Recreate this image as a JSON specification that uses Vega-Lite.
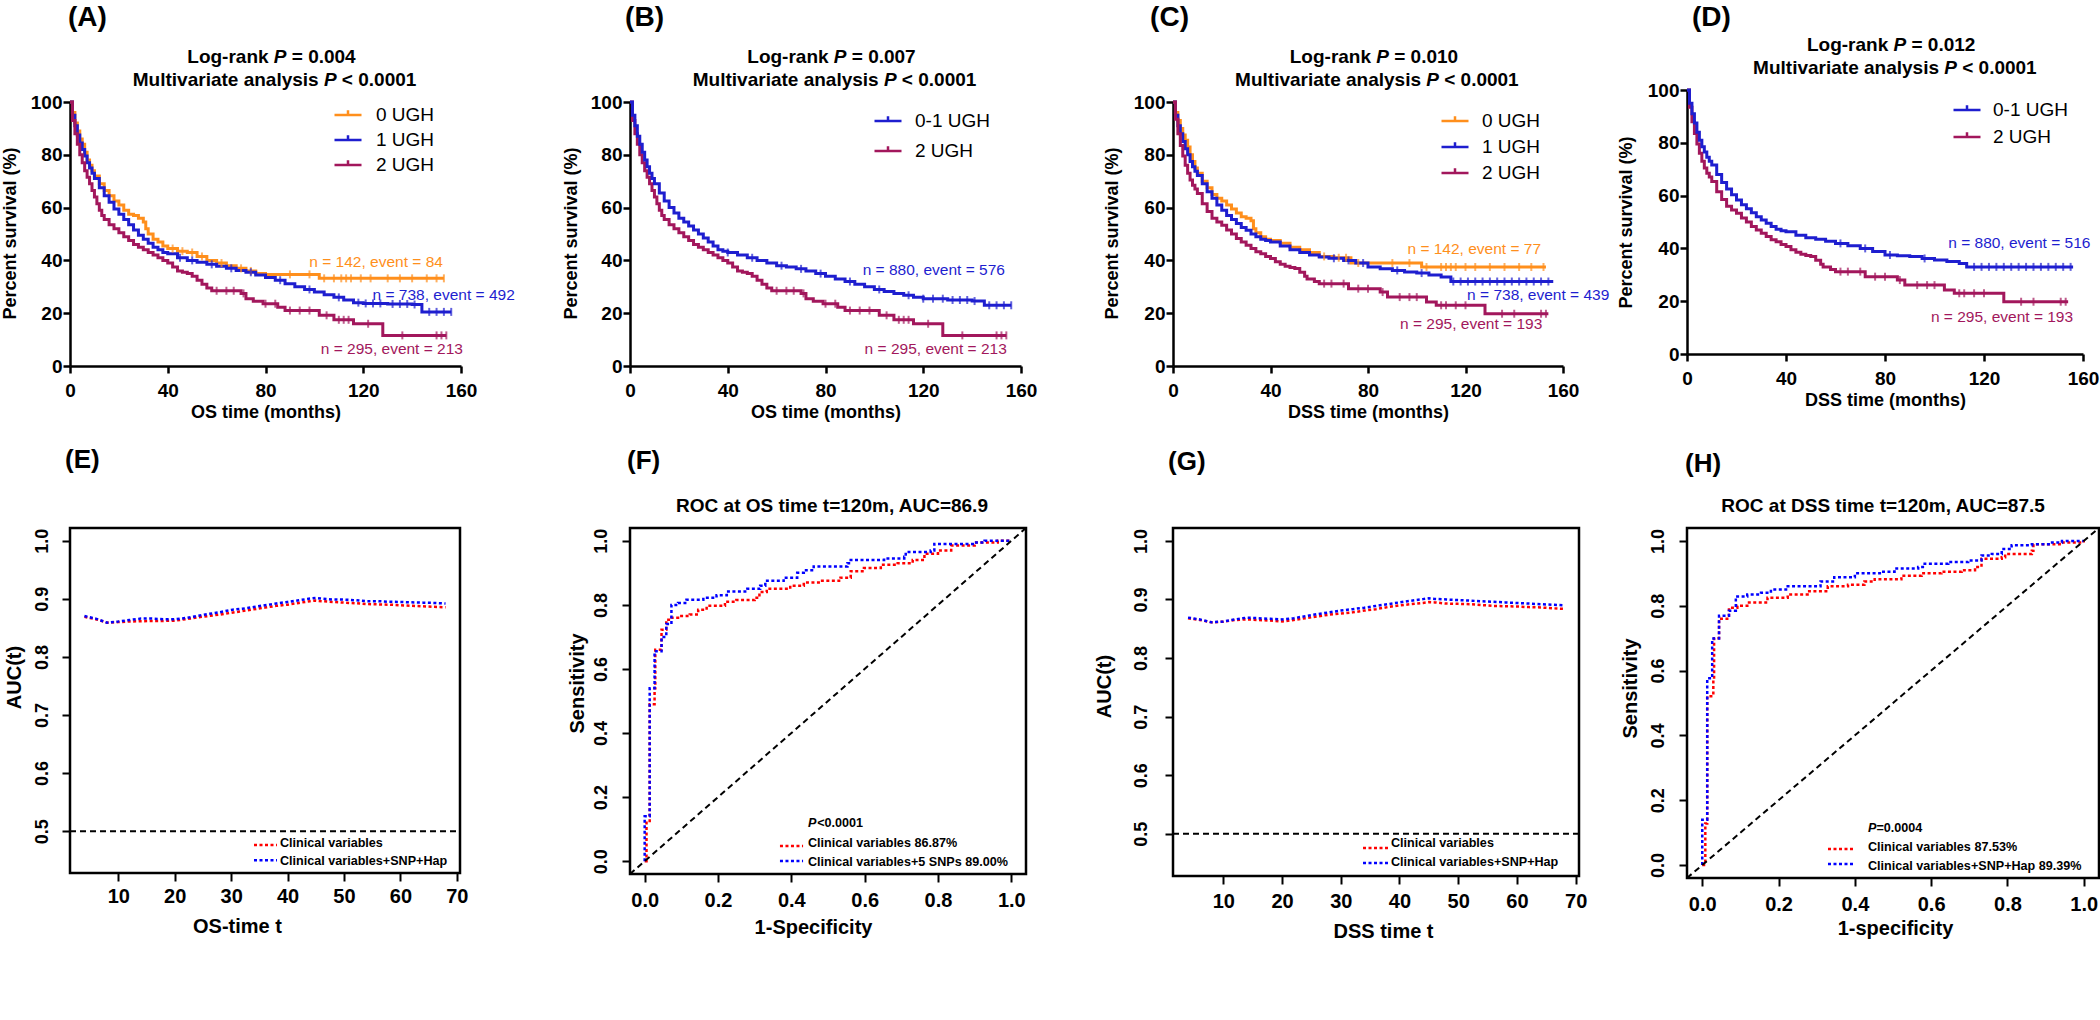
{
"$schema":"https://vega.github.io/schema/vega-lite/v6.json",
"background":"white",
"padding":{"left":1,"top":3,"right":0,"bottom":0},
"columns":4,
"spacing":{"row":162,"column":0},
"bounds":"flush",
"align":"each",
"resolve":{"scale":{"color":"independent"},"legend":{"color":"independent"}},
"config":{
 "font":"Liberation Sans",
 "view":{"stroke":null},
 "axis":{"domainColor":"black","tickColor":"black","labelColor":"black","titleColor":"black","grid":false,"labelFont":"Liberation Sans","titleFont":"Liberation Sans","labelFontWeight":"bold","titleFontWeight":"bold","labelFlush":false,"labelOverlap":false,"domainWidth":2.5,"tickWidth":2.5},
 "legend":{"labelFont":"Liberation Sans","padding":0,"labelColor":"black"},
 "text":{"font":"Liberation Sans","color":"black"}
},
"datasets":{
"os":[
{"g":"0 UGH","m":0,"p":100},{"g":"0 UGH","m":1,"p":96},{"g":"0 UGH","m":2,"p":92},{"g":"0 UGH","m":3,"p":89},{"g":"0 UGH","m":4,"p":86},{"g":"0 UGH","m":5,"p":84},{"g":"0 UGH","m":6,"p":81},{"g":"0 UGH","m":7,"p":78},{"g":"0 UGH","m":8,"p":76},{"g":"0 UGH","m":9,"p":74},{"g":"0 UGH","m":10,"p":72},{"g":"0 UGH","m":12,"p":69},{"g":"0 UGH","m":14,"p":66.5},{"g":"0 UGH","m":16,"p":64.5},{"g":"0 UGH","m":18,"p":62.5},{"g":"0 UGH","m":20,"p":61},{"g":"0 UGH","m":22,"p":59},{"g":"0 UGH","m":24,"p":57.5},{"g":"0 UGH","m":26,"p":57},{"g":"0 UGH","m":28,"p":56},{"g":"0 UGH","m":30,"p":54.5},{"g":"0 UGH","m":31,"p":52},{"g":"0 UGH","m":32,"p":50},{"g":"0 UGH","m":34,"p":48},{"g":"0 UGH","m":36,"p":47},{"g":"0 UGH","m":38,"p":45.5},{"g":"0 UGH","m":40,"p":44.5},{"g":"0 UGH","m":44,"p":43.5},{"g":"0 UGH","m":48,"p":43},{"g":"0 UGH","m":52,"p":41.5},{"g":"0 UGH","m":56,"p":40},{"g":"0 UGH","m":60,"p":39},{"g":"0 UGH","m":64,"p":38},{"g":"0 UGH","m":68,"p":37},{"g":"0 UGH","m":72,"p":36},{"g":"0 UGH","m":76,"p":35},{"g":"0 UGH","m":80,"p":34.7},{"g":"0 UGH","m":102,"p":33.2},{"g":"0 UGH","m":153,"p":33.2},
{"g":"1 UGH","m":0,"p":100},{"g":"1 UGH","m":1,"p":95},{"g":"1 UGH","m":2,"p":91},{"g":"1 UGH","m":3,"p":87.5},{"g":"1 UGH","m":4,"p":84.5},{"g":"1 UGH","m":5,"p":82},{"g":"1 UGH","m":6,"p":79.5},{"g":"1 UGH","m":7,"p":77},{"g":"1 UGH","m":8,"p":75},{"g":"1 UGH","m":9,"p":73},{"g":"1 UGH","m":10,"p":71},{"g":"1 UGH","m":12,"p":67.5},{"g":"1 UGH","m":14,"p":64.5},{"g":"1 UGH","m":16,"p":62},{"g":"1 UGH","m":18,"p":59.5},{"g":"1 UGH","m":20,"p":57.5},{"g":"1 UGH","m":22,"p":55.5},{"g":"1 UGH","m":24,"p":53.5},{"g":"1 UGH","m":26,"p":51.5},{"g":"1 UGH","m":28,"p":49.5},{"g":"1 UGH","m":30,"p":48},{"g":"1 UGH","m":32,"p":46.5},{"g":"1 UGH","m":34,"p":45},{"g":"1 UGH","m":36,"p":44},{"g":"1 UGH","m":38,"p":43},{"g":"1 UGH","m":40,"p":42.5},{"g":"1 UGH","m":44,"p":41},{"g":"1 UGH","m":48,"p":40},{"g":"1 UGH","m":52,"p":39.3},{"g":"1 UGH","m":56,"p":38.5},{"g":"1 UGH","m":60,"p":37.8},{"g":"1 UGH","m":64,"p":37},{"g":"1 UGH","m":68,"p":36.2},{"g":"1 UGH","m":72,"p":35.5},{"g":"1 UGH","m":76,"p":34.5},{"g":"1 UGH","m":80,"p":33.5},{"g":"1 UGH","m":84,"p":32.5},{"g":"1 UGH","m":88,"p":31.2},{"g":"1 UGH","m":92,"p":30},{"g":"1 UGH","m":96,"p":29},{"g":"1 UGH","m":100,"p":28},{"g":"1 UGH","m":104,"p":27},{"g":"1 UGH","m":108,"p":26},{"g":"1 UGH","m":112,"p":25},{"g":"1 UGH","m":116,"p":24},{"g":"1 UGH","m":120,"p":23.7},{"g":"1 UGH","m":130,"p":23.5},{"g":"1 UGH","m":140,"p":23.3},{"g":"1 UGH","m":144,"p":20.5},{"g":"1 UGH","m":156,"p":20.5},
{"g":"2 UGH","m":0,"p":100},{"g":"2 UGH","m":1,"p":93},{"g":"2 UGH","m":2,"p":88},{"g":"2 UGH","m":3,"p":84},{"g":"2 UGH","m":4,"p":80},{"g":"2 UGH","m":5,"p":77},{"g":"2 UGH","m":6,"p":74},{"g":"2 UGH","m":7,"p":71.5},{"g":"2 UGH","m":8,"p":69},{"g":"2 UGH","m":9,"p":66.5},{"g":"2 UGH","m":10,"p":64},{"g":"2 UGH","m":11,"p":61.5},{"g":"2 UGH","m":12,"p":59},{"g":"2 UGH","m":13,"p":57},{"g":"2 UGH","m":14,"p":55.5},{"g":"2 UGH","m":16,"p":53.5},{"g":"2 UGH","m":18,"p":52},{"g":"2 UGH","m":20,"p":50.5},{"g":"2 UGH","m":22,"p":49},{"g":"2 UGH","m":24,"p":47.5},{"g":"2 UGH","m":26,"p":46},{"g":"2 UGH","m":28,"p":45},{"g":"2 UGH","m":30,"p":44},{"g":"2 UGH","m":32,"p":43},{"g":"2 UGH","m":34,"p":42},{"g":"2 UGH","m":36,"p":41},{"g":"2 UGH","m":38,"p":40},{"g":"2 UGH","m":40,"p":39},{"g":"2 UGH","m":42,"p":37.5},{"g":"2 UGH","m":44,"p":36},{"g":"2 UGH","m":46,"p":35.5},{"g":"2 UGH","m":48,"p":35},{"g":"2 UGH","m":50,"p":34},{"g":"2 UGH","m":52,"p":32.5},{"g":"2 UGH","m":54,"p":31},{"g":"2 UGH","m":56,"p":29.5},{"g":"2 UGH","m":58,"p":28.5},{"g":"2 UGH","m":70,"p":27.5},{"g":"2 UGH","m":72,"p":25.5},{"g":"2 UGH","m":75,"p":24.5},{"g":"2 UGH","m":79,"p":23.6},{"g":"2 UGH","m":85,"p":22.3},{"g":"2 UGH","m":88,"p":21},{"g":"2 UGH","m":102,"p":19.2},{"g":"2 UGH","m":108,"p":17.5},{"g":"2 UGH","m":116,"p":16},{"g":"2 UGH","m":128,"p":11.6},{"g":"2 UGH","m":154,"p":11.6},
{"g":"0-1 UGH","m":0,"p":100},{"g":"0-1 UGH","m":1,"p":95},{"g":"0-1 UGH","m":2,"p":91},{"g":"0-1 UGH","m":3,"p":87},{"g":"0-1 UGH","m":4,"p":84},{"g":"0-1 UGH","m":5,"p":81},{"g":"0-1 UGH","m":6,"p":78},{"g":"0-1 UGH","m":7,"p":75.5},{"g":"0-1 UGH","m":8,"p":73},{"g":"0-1 UGH","m":9,"p":71},{"g":"0-1 UGH","m":10,"p":69},{"g":"0-1 UGH","m":12,"p":65.5},{"g":"0-1 UGH","m":14,"p":62.5},{"g":"0-1 UGH","m":16,"p":60},{"g":"0-1 UGH","m":18,"p":58},{"g":"0-1 UGH","m":20,"p":56},{"g":"0-1 UGH","m":22,"p":54.5},{"g":"0-1 UGH","m":24,"p":53},{"g":"0-1 UGH","m":26,"p":51.5},{"g":"0-1 UGH","m":28,"p":50},{"g":"0-1 UGH","m":30,"p":48.5},{"g":"0-1 UGH","m":32,"p":47},{"g":"0-1 UGH","m":34,"p":45.5},{"g":"0-1 UGH","m":36,"p":44},{"g":"0-1 UGH","m":38,"p":43.5},{"g":"0-1 UGH","m":40,"p":43},{"g":"0-1 UGH","m":44,"p":42},{"g":"0-1 UGH","m":48,"p":41},{"g":"0-1 UGH","m":52,"p":40},{"g":"0-1 UGH","m":56,"p":39},{"g":"0-1 UGH","m":60,"p":38},{"g":"0-1 UGH","m":64,"p":37.5},{"g":"0-1 UGH","m":68,"p":36.8},{"g":"0-1 UGH","m":72,"p":36},{"g":"0-1 UGH","m":76,"p":35},{"g":"0-1 UGH","m":80,"p":34},{"g":"0-1 UGH","m":84,"p":33},{"g":"0-1 UGH","m":88,"p":32},{"g":"0-1 UGH","m":92,"p":31},{"g":"0-1 UGH","m":96,"p":30},{"g":"0-1 UGH","m":100,"p":29},{"g":"0-1 UGH","m":104,"p":28.2},{"g":"0-1 UGH","m":108,"p":27.5},{"g":"0-1 UGH","m":112,"p":26.8},{"g":"0-1 UGH","m":116,"p":26},{"g":"0-1 UGH","m":120,"p":25.5},{"g":"0-1 UGH","m":130,"p":25},{"g":"0-1 UGH","m":140,"p":24.6},{"g":"0-1 UGH","m":145,"p":23},{"g":"0-1 UGH","m":156,"p":23}
],
"osT":[
{"g":"0 UGH","m":42,"p":44.5},{"g":"0 UGH","m":46,"p":43.5},{"g":"0 UGH","m":50,"p":43},{"g":"0 UGH","m":54,"p":41.5},{"g":"0 UGH","m":62,"p":39},{"g":"0 UGH","m":70,"p":37},{"g":"0 UGH","m":74,"p":36},{"g":"0 UGH","m":90,"p":34.7},{"g":"0 UGH","m":98,"p":34.7},{"g":"0 UGH","m":104,"p":33.2},{"g":"0 UGH","m":108,"p":33.2},{"g":"0 UGH","m":111,"p":33.2},{"g":"0 UGH","m":113,"p":33.2},{"g":"0 UGH","m":115,"p":33.2},{"g":"0 UGH","m":119,"p":33.2},{"g":"0 UGH","m":123,"p":33.2},{"g":"0 UGH","m":130,"p":33.2},{"g":"0 UGH","m":135,"p":33.2},{"g":"0 UGH","m":140,"p":33.2},{"g":"0 UGH","m":146,"p":33.2},{"g":"0 UGH","m":150,"p":33.2},{"g":"0 UGH","m":153,"p":33.2},
{"g":"1 UGH","m":45,"p":41},{"g":"1 UGH","m":50,"p":40},{"g":"1 UGH","m":58,"p":38.5},{"g":"1 UGH","m":66,"p":37},{"g":"1 UGH","m":74,"p":35.5},{"g":"1 UGH","m":86,"p":32.5},{"g":"1 UGH","m":98,"p":29},{"g":"1 UGH","m":110,"p":26},{"g":"1 UGH","m":118,"p":24},{"g":"1 UGH","m":121,"p":23.7},{"g":"1 UGH","m":124,"p":23.7},{"g":"1 UGH","m":127,"p":23.7},{"g":"1 UGH","m":132,"p":23.5},{"g":"1 UGH","m":135,"p":23.5},{"g":"1 UGH","m":138,"p":23.5},{"g":"1 UGH","m":141,"p":23.3},{"g":"1 UGH","m":147,"p":20.5},{"g":"1 UGH","m":150,"p":20.5},{"g":"1 UGH","m":153,"p":20.5},{"g":"1 UGH","m":156,"p":20.5},
{"g":"2 UGH","m":60,"p":28.5},{"g":"2 UGH","m":64,"p":28.5},{"g":"2 UGH","m":67,"p":28.5},{"g":"2 UGH","m":71,"p":27.5},{"g":"2 UGH","m":80,"p":23.6},{"g":"2 UGH","m":84,"p":23.6},{"g":"2 UGH","m":90,"p":21},{"g":"2 UGH","m":94,"p":21},{"g":"2 UGH","m":98,"p":21},{"g":"2 UGH","m":105,"p":19.2},{"g":"2 UGH","m":110,"p":17.5},{"g":"2 UGH","m":112,"p":17.5},{"g":"2 UGH","m":114,"p":17.5},{"g":"2 UGH","m":122,"p":16},{"g":"2 UGH","m":136,"p":11.6},{"g":"2 UGH","m":150,"p":11.6},{"g":"2 UGH","m":152,"p":11.6},{"g":"2 UGH","m":154,"p":11.6},
{"g":"0-1 UGH","m":40,"p":43},{"g":"0-1 UGH","m":50,"p":41},{"g":"0-1 UGH","m":62,"p":38},{"g":"0-1 UGH","m":70,"p":36.8},{"g":"0-1 UGH","m":78,"p":35},{"g":"0-1 UGH","m":90,"p":32},{"g":"0-1 UGH","m":102,"p":29},{"g":"0-1 UGH","m":114,"p":26.8},{"g":"0-1 UGH","m":120,"p":25.5},{"g":"0-1 UGH","m":124,"p":25.5},{"g":"0-1 UGH","m":128,"p":25.5},{"g":"0-1 UGH","m":132,"p":25},{"g":"0-1 UGH","m":135,"p":25},{"g":"0-1 UGH","m":138,"p":25},{"g":"0-1 UGH","m":141,"p":24.6},{"g":"0-1 UGH","m":147,"p":23},{"g":"0-1 UGH","m":150,"p":23},{"g":"0-1 UGH","m":153,"p":23},{"g":"0-1 UGH","m":156,"p":23}
],
"dss":[
{"g":"0 UGH","m":0,"p":100},{"g":"0 UGH","m":1,"p":96},{"g":"0 UGH","m":2,"p":93},{"g":"0 UGH","m":3,"p":90},{"g":"0 UGH","m":4,"p":87.5},{"g":"0 UGH","m":5,"p":85.5},{"g":"0 UGH","m":6,"p":83},{"g":"0 UGH","m":7,"p":80},{"g":"0 UGH","m":8,"p":77.5},{"g":"0 UGH","m":9,"p":75},{"g":"0 UGH","m":10,"p":73},{"g":"0 UGH","m":12,"p":70},{"g":"0 UGH","m":14,"p":67.5},{"g":"0 UGH","m":16,"p":65},{"g":"0 UGH","m":18,"p":63.5},{"g":"0 UGH","m":20,"p":62.5},{"g":"0 UGH","m":22,"p":61},{"g":"0 UGH","m":24,"p":59.5},{"g":"0 UGH","m":26,"p":58},{"g":"0 UGH","m":28,"p":56.5},{"g":"0 UGH","m":30,"p":56},{"g":"0 UGH","m":32,"p":55},{"g":"0 UGH","m":33,"p":52},{"g":"0 UGH","m":34,"p":50.5},{"g":"0 UGH","m":36,"p":49},{"g":"0 UGH","m":38,"p":48},{"g":"0 UGH","m":40,"p":47.5},{"g":"0 UGH","m":44,"p":46.5},{"g":"0 UGH","m":48,"p":45},{"g":"0 UGH","m":52,"p":44},{"g":"0 UGH","m":56,"p":43},{"g":"0 UGH","m":60,"p":41.5},{"g":"0 UGH","m":66,"p":41},{"g":"0 UGH","m":73,"p":39},{"g":"0 UGH","m":102,"p":37.5},{"g":"0 UGH","m":153,"p":37.5},
{"g":"1 UGH","m":0,"p":100},{"g":"1 UGH","m":1,"p":95},{"g":"1 UGH","m":2,"p":91},{"g":"1 UGH","m":3,"p":88},{"g":"1 UGH","m":4,"p":85},{"g":"1 UGH","m":5,"p":82.3},{"g":"1 UGH","m":6,"p":80},{"g":"1 UGH","m":7,"p":77.5},{"g":"1 UGH","m":8,"p":75.5},{"g":"1 UGH","m":9,"p":73.8},{"g":"1 UGH","m":10,"p":72.2},{"g":"1 UGH","m":12,"p":69},{"g":"1 UGH","m":14,"p":66},{"g":"1 UGH","m":16,"p":63.5},{"g":"1 UGH","m":18,"p":61},{"g":"1 UGH","m":20,"p":59},{"g":"1 UGH","m":22,"p":57},{"g":"1 UGH","m":24,"p":55.5},{"g":"1 UGH","m":26,"p":54},{"g":"1 UGH","m":28,"p":52.5},{"g":"1 UGH","m":30,"p":51.4},{"g":"1 UGH","m":32,"p":50},{"g":"1 UGH","m":34,"p":49},{"g":"1 UGH","m":36,"p":48},{"g":"1 UGH","m":38,"p":47.5},{"g":"1 UGH","m":40,"p":47},{"g":"1 UGH","m":44,"p":45.5},{"g":"1 UGH","m":48,"p":44},{"g":"1 UGH","m":52,"p":43},{"g":"1 UGH","m":56,"p":42},{"g":"1 UGH","m":60,"p":41.3},{"g":"1 UGH","m":64,"p":40.8},{"g":"1 UGH","m":70,"p":40},{"g":"1 UGH","m":75,"p":39},{"g":"1 UGH","m":80,"p":37.5},{"g":"1 UGH","m":85,"p":36.8},{"g":"1 UGH","m":90,"p":36.2},{"g":"1 UGH","m":95,"p":35.6},{"g":"1 UGH","m":100,"p":35.2},{"g":"1 UGH","m":105,"p":34.5},{"g":"1 UGH","m":110,"p":33.7},{"g":"1 UGH","m":114,"p":32},{"g":"1 UGH","m":156,"p":32},
{"g":"2 UGH","m":0,"p":100},{"g":"2 UGH","m":1,"p":93.5},{"g":"2 UGH","m":2,"p":88},{"g":"2 UGH","m":3,"p":83.5},{"g":"2 UGH","m":4,"p":79.5},{"g":"2 UGH","m":5,"p":76},{"g":"2 UGH","m":6,"p":73},{"g":"2 UGH","m":7,"p":70.5},{"g":"2 UGH","m":8,"p":68.5},{"g":"2 UGH","m":9,"p":67},{"g":"2 UGH","m":10,"p":65.3},{"g":"2 UGH","m":12,"p":61.5},{"g":"2 UGH","m":14,"p":58.5},{"g":"2 UGH","m":16,"p":56},{"g":"2 UGH","m":18,"p":54.5},{"g":"2 UGH","m":20,"p":53.3},{"g":"2 UGH","m":22,"p":51.5},{"g":"2 UGH","m":24,"p":50},{"g":"2 UGH","m":26,"p":48.3},{"g":"2 UGH","m":28,"p":47},{"g":"2 UGH","m":30,"p":45.7},{"g":"2 UGH","m":32,"p":44.5},{"g":"2 UGH","m":34,"p":43.3},{"g":"2 UGH","m":36,"p":42.5},{"g":"2 UGH","m":38,"p":41.5},{"g":"2 UGH","m":40,"p":40.7},{"g":"2 UGH","m":42,"p":39.5},{"g":"2 UGH","m":44,"p":38.5},{"g":"2 UGH","m":46,"p":37.8},{"g":"2 UGH","m":48,"p":37.3},{"g":"2 UGH","m":50,"p":36.9},{"g":"2 UGH","m":52,"p":35.5},{"g":"2 UGH","m":54,"p":34},{"g":"2 UGH","m":55,"p":33},{"g":"2 UGH","m":58,"p":32},{"g":"2 UGH","m":60,"p":31.2},{"g":"2 UGH","m":72,"p":29.3},{"g":"2 UGH","m":85,"p":28},{"g":"2 UGH","m":88,"p":26.1},{"g":"2 UGH","m":104,"p":24.2},{"g":"2 UGH","m":108,"p":23},{"g":"2 UGH","m":128,"p":19.8},{"g":"2 UGH","m":154,"p":19.8},
{"g":"0-1 UGH","m":0,"p":100},{"g":"0-1 UGH","m":1,"p":95},{"g":"0-1 UGH","m":2,"p":91},{"g":"0-1 UGH","m":3,"p":87.5},{"g":"0-1 UGH","m":4,"p":84},{"g":"0-1 UGH","m":5,"p":81},{"g":"0-1 UGH","m":6,"p":78.5},{"g":"0-1 UGH","m":7,"p":76.5},{"g":"0-1 UGH","m":8,"p":74.5},{"g":"0-1 UGH","m":9,"p":73},{"g":"0-1 UGH","m":10,"p":71.6},{"g":"0-1 UGH","m":12,"p":68},{"g":"0-1 UGH","m":14,"p":65},{"g":"0-1 UGH","m":16,"p":62.5},{"g":"0-1 UGH","m":18,"p":60.3},{"g":"0-1 UGH","m":20,"p":58.3},{"g":"0-1 UGH","m":22,"p":56.5},{"g":"0-1 UGH","m":24,"p":55},{"g":"0-1 UGH","m":26,"p":53.5},{"g":"0-1 UGH","m":28,"p":52},{"g":"0-1 UGH","m":30,"p":50.8},{"g":"0-1 UGH","m":32,"p":49.5},{"g":"0-1 UGH","m":34,"p":48.3},{"g":"0-1 UGH","m":36,"p":47.3},{"g":"0-1 UGH","m":38,"p":46.7},{"g":"0-1 UGH","m":40,"p":46.3},{"g":"0-1 UGH","m":44,"p":45},{"g":"0-1 UGH","m":48,"p":44},{"g":"0-1 UGH","m":52,"p":43.5},{"g":"0-1 UGH","m":56,"p":42.7},{"g":"0-1 UGH","m":60,"p":41.9},{"g":"0-1 UGH","m":65,"p":41},{"g":"0-1 UGH","m":70,"p":40},{"g":"0-1 UGH","m":75,"p":38.8},{"g":"0-1 UGH","m":80,"p":37.5},{"g":"0-1 UGH","m":85,"p":37.2},{"g":"0-1 UGH","m":90,"p":36.9},{"g":"0-1 UGH","m":95,"p":36.2},{"g":"0-1 UGH","m":100,"p":35.6},{"g":"0-1 UGH","m":105,"p":35},{"g":"0-1 UGH","m":110,"p":34.3},{"g":"0-1 UGH","m":113,"p":33},{"g":"0-1 UGH","m":156,"p":33}
],
"dssT":[
{"g":"0 UGH","m":62,"p":41.5},{"g":"0 UGH","m":68,"p":41},{"g":"0 UGH","m":71,"p":41},{"g":"0 UGH","m":76,"p":39},{"g":"0 UGH","m":90,"p":39},{"g":"0 UGH","m":97,"p":39},{"g":"0 UGH","m":104,"p":37.5},{"g":"0 UGH","m":110,"p":37.5},{"g":"0 UGH","m":112,"p":37.5},{"g":"0 UGH","m":114,"p":37.5},{"g":"0 UGH","m":116,"p":37.5},{"g":"0 UGH","m":120,"p":37.5},{"g":"0 UGH","m":124,"p":37.5},{"g":"0 UGH","m":130,"p":37.5},{"g":"0 UGH","m":136,"p":37.5},{"g":"0 UGH","m":142,"p":37.5},{"g":"0 UGH","m":147,"p":37.5},{"g":"0 UGH","m":152,"p":37.5},
{"g":"1 UGH","m":66,"p":40.8},{"g":"1 UGH","m":72,"p":40},{"g":"1 UGH","m":78,"p":39},{"g":"1 UGH","m":92,"p":36.2},{"g":"1 UGH","m":102,"p":35.2},{"g":"1 UGH","m":115,"p":32},{"g":"1 UGH","m":118,"p":32},{"g":"1 UGH","m":121,"p":32},{"g":"1 UGH","m":124,"p":32},{"g":"1 UGH","m":127,"p":32},{"g":"1 UGH","m":130,"p":32},{"g":"1 UGH","m":133,"p":32},{"g":"1 UGH","m":136,"p":32},{"g":"1 UGH","m":139,"p":32},{"g":"1 UGH","m":142,"p":32},{"g":"1 UGH","m":145,"p":32},{"g":"1 UGH","m":148,"p":32},{"g":"1 UGH","m":151,"p":32},{"g":"1 UGH","m":154,"p":32},
{"g":"2 UGH","m":62,"p":31.2},{"g":"2 UGH","m":65,"p":31.2},{"g":"2 UGH","m":70,"p":31.2},{"g":"2 UGH","m":76,"p":29.3},{"g":"2 UGH","m":80,"p":29.3},{"g":"2 UGH","m":86,"p":28},{"g":"2 UGH","m":93,"p":26.1},{"g":"2 UGH","m":97,"p":26.1},{"g":"2 UGH","m":100,"p":26.1},{"g":"2 UGH","m":110,"p":23},{"g":"2 UGH","m":112,"p":23},{"g":"2 UGH","m":116,"p":23},{"g":"2 UGH","m":120,"p":23},{"g":"2 UGH","m":135,"p":19.8},{"g":"2 UGH","m":140,"p":19.8},{"g":"2 UGH","m":151,"p":19.8},{"g":"2 UGH","m":153,"p":19.8},
{"g":"0-1 UGH","m":62,"p":41.9},{"g":"0-1 UGH","m":72,"p":40},{"g":"0-1 UGH","m":82,"p":37.5},{"g":"0-1 UGH","m":96,"p":36.2},{"g":"0-1 UGH","m":116,"p":33},{"g":"0-1 UGH","m":119,"p":33},{"g":"0-1 UGH","m":122,"p":33},{"g":"0-1 UGH","m":125,"p":33},{"g":"0-1 UGH","m":128,"p":33},{"g":"0-1 UGH","m":131,"p":33},{"g":"0-1 UGH","m":134,"p":33},{"g":"0-1 UGH","m":137,"p":33},{"g":"0-1 UGH","m":140,"p":33},{"g":"0-1 UGH","m":143,"p":33},{"g":"0-1 UGH","m":146,"p":33},{"g":"0-1 UGH","m":149,"p":33},{"g":"0-1 UGH","m":152,"p":33},{"g":"0-1 UGH","m":155,"p":33}
],
"aucOS":[
{"s":"Clinical variables","t":4,"v":0.869},{"s":"Clinical variables","t":6,"v":0.865},{"s":"Clinical variables","t":8,"v":0.859},{"s":"Clinical variables","t":10,"v":0.86},{"s":"Clinical variables","t":12,"v":0.861},{"s":"Clinical variables","t":14,"v":0.8615},{"s":"Clinical variables","t":16,"v":0.862},{"s":"Clinical variables","t":18,"v":0.862},{"s":"Clinical variables","t":20,"v":0.8625},{"s":"Clinical variables","t":22,"v":0.865},{"s":"Clinical variables","t":24,"v":0.868},{"s":"Clinical variables","t":26,"v":0.8705},{"s":"Clinical variables","t":28,"v":0.873},{"s":"Clinical variables","t":30,"v":0.876},{"s":"Clinical variables","t":32,"v":0.879},{"s":"Clinical variables","t":34,"v":0.882},{"s":"Clinical variables","t":36,"v":0.885},{"s":"Clinical variables","t":38,"v":0.888},{"s":"Clinical variables","t":40,"v":0.89},{"s":"Clinical variables","t":42,"v":0.893},{"s":"Clinical variables","t":44,"v":0.896},{"s":"Clinical variables","t":45,"v":0.897},{"s":"Clinical variables","t":46,"v":0.896},{"s":"Clinical variables","t":48,"v":0.8947},{"s":"Clinical variables","t":50,"v":0.8935},{"s":"Clinical variables","t":52,"v":0.8925},{"s":"Clinical variables","t":54,"v":0.891},{"s":"Clinical variables","t":56,"v":0.8905},{"s":"Clinical variables","t":58,"v":0.89},{"s":"Clinical variables","t":60,"v":0.889},{"s":"Clinical variables","t":62,"v":0.888},{"s":"Clinical variables","t":64,"v":0.8872},{"s":"Clinical variables","t":66,"v":0.8863},{"s":"Clinical variables","t":68,"v":0.8855},
{"s":"Clinical variables+SNP+Hap","t":4,"v":0.8705},{"s":"Clinical variables+SNP+Hap","t":6,"v":0.866},{"s":"Clinical variables+SNP+Hap","t":8,"v":0.859},{"s":"Clinical variables+SNP+Hap","t":10,"v":0.861},{"s":"Clinical variables+SNP+Hap","t":12,"v":0.8636},{"s":"Clinical variables+SNP+Hap","t":14,"v":0.866},{"s":"Clinical variables+SNP+Hap","t":16,"v":0.866},{"s":"Clinical variables+SNP+Hap","t":18,"v":0.865},{"s":"Clinical variables+SNP+Hap","t":20,"v":0.865},{"s":"Clinical variables+SNP+Hap","t":22,"v":0.867},{"s":"Clinical variables+SNP+Hap","t":24,"v":0.8705},{"s":"Clinical variables+SNP+Hap","t":26,"v":0.874},{"s":"Clinical variables+SNP+Hap","t":28,"v":0.877},{"s":"Clinical variables+SNP+Hap","t":30,"v":0.881},{"s":"Clinical variables+SNP+Hap","t":32,"v":0.883},{"s":"Clinical variables+SNP+Hap","t":34,"v":0.886},{"s":"Clinical variables+SNP+Hap","t":36,"v":0.889},{"s":"Clinical variables+SNP+Hap","t":38,"v":0.892},{"s":"Clinical variables+SNP+Hap","t":40,"v":0.8947},{"s":"Clinical variables+SNP+Hap","t":42,"v":0.8976},{"s":"Clinical variables+SNP+Hap","t":44,"v":0.9005},{"s":"Clinical variables+SNP+Hap","t":45,"v":0.9016},{"s":"Clinical variables+SNP+Hap","t":46,"v":0.9005},{"s":"Clinical variables+SNP+Hap","t":48,"v":0.899},{"s":"Clinical variables+SNP+Hap","t":50,"v":0.8987},{"s":"Clinical variables+SNP+Hap","t":52,"v":0.8976},{"s":"Clinical variables+SNP+Hap","t":54,"v":0.896},{"s":"Clinical variables+SNP+Hap","t":56,"v":0.896},{"s":"Clinical variables+SNP+Hap","t":58,"v":0.895},{"s":"Clinical variables+SNP+Hap","t":60,"v":0.8947},{"s":"Clinical variables+SNP+Hap","t":62,"v":0.894},{"s":"Clinical variables+SNP+Hap","t":64,"v":0.8935},{"s":"Clinical variables+SNP+Hap","t":66,"v":0.893},{"s":"Clinical variables+SNP+Hap","t":68,"v":0.892}
],
"aucDSS":[
{"s":"Clinical variables","t":4,"v":0.868},{"s":"Clinical variables","t":6,"v":0.865},{"s":"Clinical variables","t":8,"v":0.861},{"s":"Clinical variables","t":10,"v":0.862},{"s":"Clinical variables","t":12,"v":0.865},{"s":"Clinical variables","t":14,"v":0.866},{"s":"Clinical variables","t":16,"v":0.865},{"s":"Clinical variables","t":18,"v":0.864},{"s":"Clinical variables","t":20,"v":0.8625},{"s":"Clinical variables","t":22,"v":0.865},{"s":"Clinical variables","t":24,"v":0.868},{"s":"Clinical variables","t":26,"v":0.871},{"s":"Clinical variables","t":28,"v":0.874},{"s":"Clinical variables","t":30,"v":0.876},{"s":"Clinical variables","t":32,"v":0.878},{"s":"Clinical variables","t":34,"v":0.881},{"s":"Clinical variables","t":36,"v":0.8835},{"s":"Clinical variables","t":38,"v":0.887},{"s":"Clinical variables","t":40,"v":0.89},{"s":"Clinical variables","t":42,"v":0.892},{"s":"Clinical variables","t":44,"v":0.894},{"s":"Clinical variables","t":45,"v":0.8955},{"s":"Clinical variables","t":46,"v":0.895},{"s":"Clinical variables","t":48,"v":0.893},{"s":"Clinical variables","t":50,"v":0.8925},{"s":"Clinical variables","t":52,"v":0.892},{"s":"Clinical variables","t":54,"v":0.8905},{"s":"Clinical variables","t":56,"v":0.889},{"s":"Clinical variables","t":58,"v":0.8885},{"s":"Clinical variables","t":60,"v":0.888},{"s":"Clinical variables","t":62,"v":0.887},{"s":"Clinical variables","t":64,"v":0.8864},{"s":"Clinical variables","t":66,"v":0.885},{"s":"Clinical variables","t":68,"v":0.884},
{"s":"Clinical variables+SNP+Hap","t":4,"v":0.869},{"s":"Clinical variables+SNP+Hap","t":6,"v":0.866},{"s":"Clinical variables+SNP+Hap","t":8,"v":0.861},{"s":"Clinical variables+SNP+Hap","t":10,"v":0.8625},{"s":"Clinical variables+SNP+Hap","t":12,"v":0.866},{"s":"Clinical variables+SNP+Hap","t":14,"v":0.869},{"s":"Clinical variables+SNP+Hap","t":16,"v":0.868},{"s":"Clinical variables+SNP+Hap","t":18,"v":0.867},{"s":"Clinical variables+SNP+Hap","t":20,"v":0.866},{"s":"Clinical variables+SNP+Hap","t":22,"v":0.868},{"s":"Clinical variables+SNP+Hap","t":24,"v":0.8716},{"s":"Clinical variables+SNP+Hap","t":26,"v":0.875},{"s":"Clinical variables+SNP+Hap","t":28,"v":0.878},{"s":"Clinical variables+SNP+Hap","t":30,"v":0.881},{"s":"Clinical variables+SNP+Hap","t":32,"v":0.8835},{"s":"Clinical variables+SNP+Hap","t":34,"v":0.886},{"s":"Clinical variables+SNP+Hap","t":36,"v":0.889},{"s":"Clinical variables+SNP+Hap","t":38,"v":0.892},{"s":"Clinical variables+SNP+Hap","t":40,"v":0.895},{"s":"Clinical variables+SNP+Hap","t":42,"v":0.898},{"s":"Clinical variables+SNP+Hap","t":44,"v":0.9006},{"s":"Clinical variables+SNP+Hap","t":45,"v":0.902},{"s":"Clinical variables+SNP+Hap","t":46,"v":0.901},{"s":"Clinical variables+SNP+Hap","t":48,"v":0.9},{"s":"Clinical variables+SNP+Hap","t":50,"v":0.899},{"s":"Clinical variables+SNP+Hap","t":52,"v":0.898},{"s":"Clinical variables+SNP+Hap","t":54,"v":0.897},{"s":"Clinical variables+SNP+Hap","t":56,"v":0.896},{"s":"Clinical variables+SNP+Hap","t":58,"v":0.895},{"s":"Clinical variables+SNP+Hap","t":60,"v":0.894},{"s":"Clinical variables+SNP+Hap","t":62,"v":0.893},{"s":"Clinical variables+SNP+Hap","t":64,"v":0.892},{"s":"Clinical variables+SNP+Hap","t":66,"v":0.891},{"s":"Clinical variables+SNP+Hap","t":68,"v":0.89}
],
"rocOS":[
{"s":"Clinical variables","fpr":0,"tpr":0},{"s":"Clinical variables","fpr":0.005,"tpr":0.12},{"s":"Clinical variables","fpr":0.0137,"tpr":0.49},{"s":"Clinical variables","fpr":0.027,"tpr":0.54},{"s":"Clinical variables","fpr":0.029,"tpr":0.66},{"s":"Clinical variables","fpr":0.046,"tpr":0.7225},{"s":"Clinical variables","fpr":0.059,"tpr":0.754},{"s":"Clinical variables","fpr":0.073,"tpr":0.76},{"s":"Clinical variables","fpr":0.091,"tpr":0.765},{"s":"Clinical variables","fpr":0.123,"tpr":0.77},{"s":"Clinical variables","fpr":0.146,"tpr":0.785},{"s":"Clinical variables","fpr":0.169,"tpr":0.797},{"s":"Clinical variables","fpr":0.219,"tpr":0.81},{"s":"Clinical variables","fpr":0.25,"tpr":0.815},{"s":"Clinical variables","fpr":0.3,"tpr":0.822},{"s":"Clinical variables","fpr":0.313,"tpr":0.84},{"s":"Clinical variables","fpr":0.333,"tpr":0.85},{"s":"Clinical variables","fpr":0.397,"tpr":0.86},{"s":"Clinical variables","fpr":0.434,"tpr":0.87},{"s":"Clinical variables","fpr":0.479,"tpr":0.875},{"s":"Clinical variables","fpr":0.534,"tpr":0.885},{"s":"Clinical variables","fpr":0.562,"tpr":0.905},{"s":"Clinical variables","fpr":0.598,"tpr":0.915},{"s":"Clinical variables","fpr":0.644,"tpr":0.925},{"s":"Clinical variables","fpr":0.69,"tpr":0.93},{"s":"Clinical variables","fpr":0.731,"tpr":0.94},{"s":"Clinical variables","fpr":0.763,"tpr":0.96},{"s":"Clinical variables","fpr":0.8,"tpr":0.97},{"s":"Clinical variables","fpr":0.836,"tpr":0.985},{"s":"Clinical variables","fpr":0.9,"tpr":0.995},{"s":"Clinical variables","fpr":0.963,"tpr":1},{"s":"Clinical variables","fpr":1,"tpr":1},
{"s":"Clinical variables+5 SNPs","fpr":0,"tpr":0},{"s":"Clinical variables+5 SNPs","fpr":0,"tpr":0.14},{"s":"Clinical variables+5 SNPs","fpr":0.0137,"tpr":0.54},{"s":"Clinical variables+5 SNPs","fpr":0.027,"tpr":0.655},{"s":"Clinical variables+5 SNPs","fpr":0.046,"tpr":0.7},{"s":"Clinical variables+5 SNPs","fpr":0.059,"tpr":0.74},{"s":"Clinical variables+5 SNPs","fpr":0.073,"tpr":0.8},{"s":"Clinical variables+5 SNPs","fpr":0.091,"tpr":0.806},{"s":"Clinical variables+5 SNPs","fpr":0.114,"tpr":0.816},{"s":"Clinical variables+5 SNPs","fpr":0.16,"tpr":0.822},{"s":"Clinical variables+5 SNPs","fpr":0.196,"tpr":0.83},{"s":"Clinical variables+5 SNPs","fpr":0.224,"tpr":0.842},{"s":"Clinical variables+5 SNPs","fpr":0.28,"tpr":0.85},{"s":"Clinical variables+5 SNPs","fpr":0.315,"tpr":0.86},{"s":"Clinical variables+5 SNPs","fpr":0.329,"tpr":0.875},{"s":"Clinical variables+5 SNPs","fpr":0.379,"tpr":0.885},{"s":"Clinical variables+5 SNPs","fpr":0.416,"tpr":0.9},{"s":"Clinical variables+5 SNPs","fpr":0.434,"tpr":0.908},{"s":"Clinical variables+5 SNPs","fpr":0.461,"tpr":0.92},{"s":"Clinical variables+5 SNPs","fpr":0.553,"tpr":0.93},{"s":"Clinical variables+5 SNPs","fpr":0.562,"tpr":0.94},{"s":"Clinical variables+5 SNPs","fpr":0.653,"tpr":0.945},{"s":"Clinical variables+5 SNPs","fpr":0.708,"tpr":0.95},{"s":"Clinical variables+5 SNPs","fpr":0.712,"tpr":0.965},{"s":"Clinical variables+5 SNPs","fpr":0.78,"tpr":0.97},{"s":"Clinical variables+5 SNPs","fpr":0.79,"tpr":0.99},{"s":"Clinical variables+5 SNPs","fpr":0.9,"tpr":0.995},{"s":"Clinical variables+5 SNPs","fpr":0.927,"tpr":1},{"s":"Clinical variables+5 SNPs","fpr":1,"tpr":1}
],
"rocDSS":[
{"s":"Clinical variables","fpr":0,"tpr":0},{"s":"Clinical variables","fpr":0.008,"tpr":0.128},{"s":"Clinical variables","fpr":0.013,"tpr":0.521},{"s":"Clinical variables","fpr":0.029,"tpr":0.57},{"s":"Clinical variables","fpr":0.031,"tpr":0.7},{"s":"Clinical variables","fpr":0.044,"tpr":0.76},{"s":"Clinical variables","fpr":0.07,"tpr":0.794},{"s":"Clinical variables","fpr":0.092,"tpr":0.8},{"s":"Clinical variables","fpr":0.118,"tpr":0.81},{"s":"Clinical variables","fpr":0.171,"tpr":0.825},{"s":"Clinical variables","fpr":0.224,"tpr":0.835},{"s":"Clinical variables","fpr":0.276,"tpr":0.845},{"s":"Clinical variables","fpr":0.329,"tpr":0.86},{"s":"Clinical variables","fpr":0.382,"tpr":0.865},{"s":"Clinical variables","fpr":0.425,"tpr":0.875},{"s":"Clinical variables","fpr":0.452,"tpr":0.882},{"s":"Clinical variables","fpr":0.522,"tpr":0.893},{"s":"Clinical variables","fpr":0.575,"tpr":0.9},{"s":"Clinical variables","fpr":0.627,"tpr":0.905},{"s":"Clinical variables","fpr":0.68,"tpr":0.91},{"s":"Clinical variables","fpr":0.715,"tpr":0.92},{"s":"Clinical variables","fpr":0.732,"tpr":0.945},{"s":"Clinical variables","fpr":0.785,"tpr":0.95},{"s":"Clinical variables","fpr":0.794,"tpr":0.96},{"s":"Clinical variables","fpr":0.864,"tpr":0.97},{"s":"Clinical variables","fpr":0.868,"tpr":0.99},{"s":"Clinical variables","fpr":0.943,"tpr":0.995},{"s":"Clinical variables","fpr":1,"tpr":1},
{"s":"Clinical variables+SNP+Hap","fpr":0,"tpr":0},{"s":"Clinical variables+SNP+Hap","fpr":0,"tpr":0.14},{"s":"Clinical variables+SNP+Hap","fpr":0.013,"tpr":0.576},{"s":"Clinical variables+SNP+Hap","fpr":0.026,"tpr":0.699},{"s":"Clinical variables+SNP+Hap","fpr":0.044,"tpr":0.769},{"s":"Clinical variables+SNP+Hap","fpr":0.07,"tpr":0.785},{"s":"Clinical variables+SNP+Hap","fpr":0.088,"tpr":0.829},{"s":"Clinical variables+SNP+Hap","fpr":0.118,"tpr":0.835},{"s":"Clinical variables+SNP+Hap","fpr":0.154,"tpr":0.84},{"s":"Clinical variables+SNP+Hap","fpr":0.18,"tpr":0.85},{"s":"Clinical variables+SNP+Hap","fpr":0.224,"tpr":0.86},{"s":"Clinical variables+SNP+Hap","fpr":0.31,"tpr":0.875},{"s":"Clinical variables+SNP+Hap","fpr":0.346,"tpr":0.888},{"s":"Clinical variables+SNP+Hap","fpr":0.4,"tpr":0.9},{"s":"Clinical variables+SNP+Hap","fpr":0.47,"tpr":0.905},{"s":"Clinical variables+SNP+Hap","fpr":0.504,"tpr":0.915},{"s":"Clinical variables+SNP+Hap","fpr":0.566,"tpr":0.92},{"s":"Clinical variables+SNP+Hap","fpr":0.583,"tpr":0.93},{"s":"Clinical variables+SNP+Hap","fpr":0.645,"tpr":0.935},{"s":"Clinical variables+SNP+Hap","fpr":0.697,"tpr":0.94},{"s":"Clinical variables+SNP+Hap","fpr":0.732,"tpr":0.955},{"s":"Clinical variables+SNP+Hap","fpr":0.759,"tpr":0.96},{"s":"Clinical variables+SNP+Hap","fpr":0.785,"tpr":0.975},{"s":"Clinical variables+SNP+Hap","fpr":0.811,"tpr":0.987},{"s":"Clinical variables+SNP+Hap","fpr":0.864,"tpr":0.99},{"s":"Clinical variables+SNP+Hap","fpr":0.917,"tpr":0.995},{"s":"Clinical variables+SNP+Hap","fpr":0.943,"tpr":1},{"s":"Clinical variables+SNP+Hap","fpr":1,"tpr":1}
]
},
"concat":[
{
 "width":560,"height":276,"view":{"stroke":null},
 "layer":[
  {"data":{"name":"os"},"transform":[{"filter":{"field":"g","oneOf":["0 UGH","1 UGH","2 UGH"]}}],
   "mark":{"type":"line","interpolate":"step-after","strokeWidth":3},
   "encoding":{
    "x":{"field":"m","type":"quantitative","scale":{"domain":[0,160],"range":[0,391],"nice":false,"zero":false},"axis":{"values":[0,40,80,120,160],"title":"OS time (months)","titleFontSize":18,"titleY":46,"titleBaseline":"middle","labelFontSize":19,"labelBaseline":"middle","labelPadding":17,"tickSize":7}},
    "y":{"field":"p","type":"quantitative","scale":{"domain":[0,100],"range":[276,12],"nice":false},"axis":{"values":[0,20,40,60,80,100],"title":"Percent survival (%)","titleFontSize":18,"titleX":-60,"titleY":143,"titleAngle":270,"titleBaseline":"middle","titleAlign":"center","labelFontSize":19,"labelPadding":1,"tickSize":7}},
    "color":{"field":"g","type":"nominal","scale":{"domain":["0 UGH","1 UGH","2 UGH"],"range":["#FF8F1C","#1E1ECF","#A2175C"]},"legend":{"orient":"none","legendX":263,"legendY":10,"title":null,"symbolType":"M-1,0H1M0,0V-0.35","symbolSize":729,"symbolStrokeWidth":2.5,"labelFontSize":19,"labelOffset":13,"rowPadding":0}}
   }},
  {"data":{"name":"osT"},"transform":[{"filter":{"field":"g","oneOf":["0 UGH","1 UGH","2 UGH"]}}],"mark":{"type":"tick","orient":"vertical","size":8,"thickness":2},"encoding":{"x":{"field":"m","type":"quantitative"},"y":{"field":"p","type":"quantitative"},"color":{"field":"g","type":"nominal","legend":null}}},
  {"data":{"values":[{"g":"0 UGH","m":152.6,"p":39.4,"label":"n = 142, event = 84"},{"g":"1 UGH","m":182,"p":26.9,"label":"n = 738, event = 492"},{"g":"2 UGH","m":160.8,"p":6.4,"label":"n = 295, event = 213"}]},"mark":{"type":"text","align":"right","baseline":"middle","fontSize":15.5},"encoding":{"x":{"field":"m","type":"quantitative"},"y":{"field":"p","type":"quantitative"},"text":{"field":"label"},"color":{"field":"g","type":"nominal","legend":null}}},
  {"data":{"values":[{"txt":"(A)","m":-0.8,"p":132}]},"mark":{"type":"text","align":"left","baseline":"middle","fontSize":28,"fontWeight":"bold"},"encoding":{"x":{"field":"m","type":"quantitative"},"y":{"field":"p","type":"quantitative"},"text":{"field":"txt"}}},
  {"data":{"values":[{"txt":"Log-rank","m":86,"p":117},{"txt":"Multivariate analysis","m":106.5,"p":108.3}]},"mark":{"type":"text","align":"right","baseline":"middle","fontSize":19,"fontWeight":"bold","dx":-11.6},"encoding":{"x":{"field":"m","type":"quantitative"},"y":{"field":"p","type":"quantitative"},"text":{"field":"txt"}}},
  {"data":{"values":[{"txt":"P","m":86,"p":117},{"txt":"P","m":106.5,"p":108.3}]},"mark":{"type":"text","align":"center","baseline":"middle","fontSize":19,"fontWeight":"bold","fontStyle":"italic"},"encoding":{"x":{"field":"m","type":"quantitative"},"y":{"field":"p","type":"quantitative"},"text":{"field":"txt"}}},
  {"data":{"values":[{"txt":"= 0.004","m":86,"p":117},{"txt":"< 0.0001","m":106.5,"p":108.3}]},"mark":{"type":"text","align":"left","baseline":"middle","fontSize":19,"fontWeight":"bold","dx":11.6},"encoding":{"x":{"field":"m","type":"quantitative"},"y":{"field":"p","type":"quantitative"},"text":{"field":"txt"}}}
 ]
},
{
 "width":543,"height":276,"view":{"stroke":null},
 "layer":[
  {"data":{"name":"os"},"transform":[{"filter":{"field":"g","oneOf":["0-1 UGH","2 UGH"]}}],
   "mark":{"type":"line","interpolate":"step-after","strokeWidth":3},
   "encoding":{
    "x":{"field":"m","type":"quantitative","scale":{"domain":[0,160],"range":[0,391],"nice":false,"zero":false},"axis":{"values":[0,40,80,120,160],"title":"OS time (months)","titleFontSize":18,"titleY":46,"titleBaseline":"middle","labelFontSize":19,"labelBaseline":"middle","labelPadding":17,"tickSize":7}},
    "y":{"field":"p","type":"quantitative","scale":{"domain":[0,100],"range":[276,12],"nice":false},"axis":{"values":[0,20,40,60,80,100],"title":"Percent survival (%)","titleFontSize":18,"titleX":-59,"titleY":143,"titleAngle":270,"titleBaseline":"middle","titleAlign":"center","labelFontSize":19,"labelPadding":1,"tickSize":7}},
    "color":{"field":"g","type":"nominal","scale":{"domain":["0-1 UGH","2 UGH"],"range":["#1E1ECF","#A2175C"]},"legend":{"orient":"none","legendX":243,"legendY":16,"title":null,"symbolType":"M-1,0H1M0,0V-0.35","symbolSize":729,"symbolStrokeWidth":2.5,"labelFontSize":19,"labelOffset":12,"rowPadding":5}}
   }},
  {"data":{"name":"osT"},"transform":[{"filter":{"field":"g","oneOf":["0-1 UGH","2 UGH"]}}],"mark":{"type":"tick","orient":"vertical","size":8,"thickness":2},"encoding":{"x":{"field":"m","type":"quantitative"},"y":{"field":"p","type":"quantitative"},"color":{"field":"g","type":"nominal","legend":null}}},
  {"data":{"values":[{"g":"0-1 UGH","m":153.4,"p":36.4,"label":"n = 880, event = 576"},{"g":"2 UGH","m":154.2,"p":6.4,"label":"n = 295, event = 213"}]},"mark":{"type":"text","align":"right","baseline":"middle","fontSize":15.5},"encoding":{"x":{"field":"m","type":"quantitative"},"y":{"field":"p","type":"quantitative"},"text":{"field":"label"},"color":{"field":"g","type":"nominal","legend":null}}},
  {"data":{"values":[{"txt":"(B)","m":-2,"p":132}]},"mark":{"type":"text","align":"left","baseline":"middle","fontSize":28,"fontWeight":"bold"},"encoding":{"x":{"field":"m","type":"quantitative"},"y":{"field":"p","type":"quantitative"},"text":{"field":"txt"}}},
  {"data":{"values":[{"txt":"Log-rank","m":86,"p":117},{"txt":"Multivariate analysis","m":106.5,"p":108.3}]},"mark":{"type":"text","align":"right","baseline":"middle","fontSize":19,"fontWeight":"bold","dx":-11.6},"encoding":{"x":{"field":"m","type":"quantitative"},"y":{"field":"p","type":"quantitative"},"text":{"field":"txt"}}},
  {"data":{"values":[{"txt":"P","m":86,"p":117},{"txt":"P","m":106.5,"p":108.3}]},"mark":{"type":"text","align":"center","baseline":"middle","fontSize":19,"fontWeight":"bold","fontStyle":"italic"},"encoding":{"x":{"field":"m","type":"quantitative"},"y":{"field":"p","type":"quantitative"},"text":{"field":"txt"}}},
  {"data":{"values":[{"txt":"= 0.007","m":86,"p":117},{"txt":"< 0.0001","m":106.5,"p":108.3}]},"mark":{"type":"text","align":"left","baseline":"middle","fontSize":19,"fontWeight":"bold","dx":11.6},"encoding":{"x":{"field":"m","type":"quantitative"},"y":{"field":"p","type":"quantitative"},"text":{"field":"txt"}}}
 ]
},
{
 "width":514,"height":276,"view":{"stroke":null},
 "layer":[
  {"data":{"name":"dss"},"transform":[{"filter":{"field":"g","oneOf":["0 UGH","1 UGH","2 UGH"]}}],
   "mark":{"type":"line","interpolate":"step-after","strokeWidth":3},
   "encoding":{
    "x":{"field":"m","type":"quantitative","scale":{"domain":[0,160],"range":[0,390],"nice":false,"zero":false},"axis":{"values":[0,40,80,120,160],"title":"DSS time (months)","titleFontSize":18,"titleY":46,"titleBaseline":"middle","labelFontSize":19,"labelBaseline":"middle","labelPadding":17,"tickSize":7}},
    "y":{"field":"p","type":"quantitative","scale":{"domain":[0,100],"range":[276,12],"nice":false},"axis":{"values":[0,20,40,60,80,100],"title":"Percent survival (%)","titleFontSize":18,"titleX":-61,"titleY":143,"titleAngle":270,"titleBaseline":"middle","titleAlign":"center","labelFontSize":19,"labelPadding":1,"tickSize":7}},
    "color":{"field":"g","type":"nominal","scale":{"domain":["0 UGH","1 UGH","2 UGH"],"range":["#FF8F1C","#1E1ECF","#A2175C"]},"legend":{"orient":"none","legendX":267,"legendY":16,"title":null,"symbolType":"M-1,0H1M0,0V-0.35","symbolSize":729,"symbolStrokeWidth":2.5,"labelFontSize":19,"labelOffset":12,"rowPadding":1}}
   }},
  {"data":{"name":"dssT"},"transform":[{"filter":{"field":"g","oneOf":["0 UGH","1 UGH","2 UGH"]}}],"mark":{"type":"tick","orient":"vertical","size":8,"thickness":2},"encoding":{"x":{"field":"m","type":"quantitative"},"y":{"field":"p","type":"quantitative"},"color":{"field":"g","type":"nominal","legend":null}}},
  {"data":{"values":[{"g":"0 UGH","m":151,"p":44.3,"label":"n = 142, event = 77"},{"g":"1 UGH","m":179,"p":26.9,"label":"n = 738, event = 439"},{"g":"2 UGH","m":151.5,"p":15.9,"label":"n = 295, event = 193"}]},"mark":{"type":"text","align":"right","baseline":"middle","fontSize":15.5},"encoding":{"x":{"field":"m","type":"quantitative"},"y":{"field":"p","type":"quantitative"},"text":{"field":"label"},"color":{"field":"g","type":"nominal","legend":null}}},
  {"data":{"values":[{"txt":"(C)","m":-9.4,"p":132}]},"mark":{"type":"text","align":"left","baseline":"middle","fontSize":28,"fontWeight":"bold"},"encoding":{"x":{"field":"m","type":"quantitative"},"y":{"field":"p","type":"quantitative"},"text":{"field":"txt"}}},
  {"data":{"values":[{"txt":"Log-rank","m":86,"p":117},{"txt":"Multivariate analysis","m":106.5,"p":108.3}]},"mark":{"type":"text","align":"right","baseline":"middle","fontSize":19,"fontWeight":"bold","dx":-11.6},"encoding":{"x":{"field":"m","type":"quantitative"},"y":{"field":"p","type":"quantitative"},"text":{"field":"txt"}}},
  {"data":{"values":[{"txt":"P","m":86,"p":117},{"txt":"P","m":106.5,"p":108.3}]},"mark":{"type":"text","align":"center","baseline":"middle","fontSize":19,"fontWeight":"bold","fontStyle":"italic"},"encoding":{"x":{"field":"m","type":"quantitative"},"y":{"field":"p","type":"quantitative"},"text":{"field":"txt"}}},
  {"data":{"values":[{"txt":"= 0.010","m":86,"p":117},{"txt":"< 0.0001","m":106.5,"p":108.3}]},"mark":{"type":"text","align":"left","baseline":"middle","fontSize":19,"fontWeight":"bold","dx":11.6},"encoding":{"x":{"field":"m","type":"quantitative"},"y":{"field":"p","type":"quantitative"},"text":{"field":"txt"}}}
 ]
},
{
 "width":396,"height":264,"view":{"stroke":null},
 "layer":[
  {"data":{"name":"dss"},"transform":[{"filter":{"field":"g","oneOf":["0-1 UGH","2 UGH"]}}],
   "mark":{"type":"line","interpolate":"step-after","strokeWidth":3},
   "encoding":{
    "x":{"field":"m","type":"quantitative","scale":{"domain":[0,160],"nice":false,"zero":false},"axis":{"values":[0,40,80,120,160],"title":"DSS time (months)","titleFontSize":18,"titleY":46,"titleBaseline":"middle","labelFontSize":19,"labelBaseline":"middle","labelPadding":17,"tickSize":7}},
    "y":{"field":"p","type":"quantitative","scale":{"domain":[0,100],"nice":false},"axis":{"values":[0,20,40,60,80,100],"title":"Percent survival (%)","titleFontSize":18,"titleX":-61,"titleY":132,"titleAngle":270,"titleBaseline":"middle","titleAlign":"center","labelFontSize":19,"labelPadding":1,"tickSize":7}},
    "color":{"field":"g","type":"nominal","scale":{"domain":["0-1 UGH","2 UGH"],"range":["#1E1ECF","#A2175C"]},"legend":{"orient":"none","legendX":265,"legendY":5,"title":null,"symbolType":"M-1,0H1M0,0V-0.35","symbolSize":729,"symbolStrokeWidth":2.5,"labelFontSize":19,"labelOffset":11,"rowPadding":2}}
   }},
  {"data":{"name":"dssT"},"transform":[{"filter":{"field":"g","oneOf":["0-1 UGH","2 UGH"]}}],"mark":{"type":"tick","orient":"vertical","size":8,"thickness":2},"encoding":{"x":{"field":"m","type":"quantitative"},"y":{"field":"p","type":"quantitative"},"color":{"field":"g","type":"nominal","legend":null}}},
  {"data":{"values":[{"g":"0-1 UGH","m":163,"p":42,"label":"n = 880, event = 516"},{"g":"2 UGH","m":156,"p":14,"label":"n = 295, event = 193"}]},"mark":{"type":"text","align":"right","baseline":"middle","fontSize":15.5},"encoding":{"x":{"field":"m","type":"quantitative"},"y":{"field":"p","type":"quantitative"},"text":{"field":"label"},"color":{"field":"g","type":"nominal","legend":null}}},
  {"data":{"values":[{"txt":"(D)","m":2,"p":127.4}]},"mark":{"type":"text","align":"left","baseline":"middle","fontSize":28,"fontWeight":"bold"},"encoding":{"x":{"field":"m","type":"quantitative"},"y":{"field":"p","type":"quantitative"},"text":{"field":"txt"}}},
  {"data":{"values":[{"txt":"Log-rank","m":86,"p":117},{"txt":"Multivariate analysis","m":106.5,"p":108.3}]},"mark":{"type":"text","align":"right","baseline":"middle","fontSize":19,"fontWeight":"bold","dx":-11.6},"encoding":{"x":{"field":"m","type":"quantitative"},"y":{"field":"p","type":"quantitative"},"text":{"field":"txt"}}},
  {"data":{"values":[{"txt":"P","m":86,"p":117},{"txt":"P","m":106.5,"p":108.3}]},"mark":{"type":"text","align":"center","baseline":"middle","fontSize":19,"fontWeight":"bold","fontStyle":"italic"},"encoding":{"x":{"field":"m","type":"quantitative"},"y":{"field":"p","type":"quantitative"},"text":{"field":"txt"}}},
  {"data":{"values":[{"txt":"= 0.012","m":86,"p":117},{"txt":"< 0.0001","m":106.5,"p":108.3}]},"mark":{"type":"text","align":"left","baseline":"middle","fontSize":19,"fontWeight":"bold","dx":11.6},"encoding":{"x":{"field":"m","type":"quantitative"},"y":{"field":"p","type":"quantitative"},"text":{"field":"txt"}}}
 ]
},
{
 "width":390,"height":345,"view":{"stroke":"black","strokeWidth":2.5},
 "layer":[
  {"data":{"name":"aucOS"},"mark":{"type":"line","strokeDash":[3,2.5],"strokeWidth":2.5},
   "encoding":{
    "x":{"field":"t","type":"quantitative","scale":{"domain":[1.44,70.56],"nice":false,"zero":false},"axis":{"values":[10,20,30,40,50,60,70],"domain":false,"tickSize":8,"tickWidth":2,"labelFontSize":20,"labelBaseline":"middle","labelPadding":15,"title":"OS-time t","titleFontSize":20,"titleX":167,"titleY":53,"titleBaseline":"middle"}},
    "y":{"field":"v","type":"quantitative","scale":{"domain":[0.428,1.022],"nice":false,"zero":false},"axis":{"values":[0.5,0.6,0.7,0.8,0.9,1.0],"format":".1f","domain":false,"tickSize":8,"tickWidth":2,"labelAngle":270,"labelAlign":"center","labelBaseline":"middle","labelFontSize":18,"labelPadding":20,"title":"AUC(t)","titleFontSize":20,"titleX":-56,"titleY":149,"titleAngle":270,"titleBaseline":"middle","titleAlign":"center"}},
    "color":{"field":"s","type":"nominal","scale":{"domain":["Clinical variables","Clinical variables+SNP+Hap"],"range":["#FF0000","#0000FF"]},"legend":null}
   }},
  {"data":{"values":[{}]},"mark":{"type":"rule","color":"black","strokeDash":[6,4],"strokeWidth":2},"encoding":{"x":{"datum":1.44},"x2":{"datum":70.56},"y":{"datum":0.5}}},
  {"data":{"values":[{"s":"Clinical variables","a":34.05,"b":38.12,"c":0.476},{"s":"Clinical variables+SNP+Hap","a":34.05,"b":38.12,"c":0.45}]},"mark":{"type":"rule","strokeDash":[3,2.5],"strokeWidth":2.5},"encoding":{"x":{"field":"a","type":"quantitative"},"x2":{"field":"b"},"y":{"field":"c","type":"quantitative"},"color":{"field":"s","type":"nominal","legend":null}}},
  {"data":{"values":[{"txt":"Clinical variables","a":38.65,"c":0.48},{"txt":"Clinical variables+SNP+Hap","a":38.65,"c":0.449}]},"mark":{"type":"text","align":"left","baseline":"middle","fontSize":12.6,"fontWeight":"bold"},"encoding":{"x":{"field":"a","type":"quantitative"},"y":{"field":"c","type":"quantitative"},"text":{"field":"txt"}}},
  {"data":{"values":[{"txt":"(E)","a":0.55,"c":1.139}]},"mark":{"type":"text","align":"left","baseline":"middle","fontSize":26,"fontWeight":"bold"},"encoding":{"x":{"field":"a","type":"quantitative"},"y":{"field":"c","type":"quantitative"},"text":{"field":"txt"}}}
 ]
},
{
 "width":396,"height":346,"view":{"stroke":"black","strokeWidth":2.5},
 "layer":[
  {"data":{"name":"rocOS"},"mark":{"type":"line","interpolate":"step-after","strokeDash":[3,2.5],"strokeWidth":2.5},
   "encoding":{
    "x":{"field":"fpr","type":"quantitative","scale":{"domain":[-0.04,1.04],"nice":false,"zero":false},"axis":{"values":[0,0.2,0.4,0.6,0.8,1.0],"format":".1f","domain":false,"tickSize":8,"tickWidth":2,"labelFontSize":20,"labelBaseline":"middle","labelPadding":18,"title":"1-Specificity","titleFontSize":20,"titleX":183,"titleY":53,"titleBaseline":"middle"}},
    "y":{"field":"tpr","type":"quantitative","scale":{"domain":[-0.04,1.04],"nice":false,"zero":false},"axis":{"values":[0,0.2,0.4,0.6,0.8,1.0],"format":".1f","domain":false,"tickSize":8,"tickWidth":2,"labelAngle":270,"labelAlign":"center","labelBaseline":"middle","labelFontSize":18,"labelPadding":21,"title":"Sensitivity","titleFontSize":20,"titleX":-53,"titleY":155,"titleAngle":270,"titleBaseline":"middle","titleAlign":"center"}},
    "color":{"field":"s","type":"nominal","scale":{"domain":["Clinical variables","Clinical variables+5 SNPs"],"range":["#FF0000","#0000FF"]},"legend":null}
   }},
  {"data":{"values":[{}]},"mark":{"type":"rule","color":"black","strokeDash":[6,4],"strokeWidth":2},"encoding":{"x":{"datum":-0.04},"y":{"datum":-0.04},"x2":{"datum":1.04},"y2":{"datum":1.04}}},
  {"data":{"values":[{"s":"Clinical variables","a":0.369,"b":0.432,"c":0.0475},{"s":"Clinical variables+5 SNPs","a":0.369,"b":0.432,"c":0.0007}]},"mark":{"type":"rule","strokeDash":[3,2.5],"strokeWidth":2.5},"encoding":{"x":{"field":"a","type":"quantitative"},"x2":{"field":"b"},"y":{"field":"c","type":"quantitative"},"color":{"field":"s","type":"nominal","legend":null}}},
  {"data":{"values":[{"txt":"Clinical variables 86.87%","a":0.4454,"c":0.057},{"txt":"Clinical variables+5 SNPs 89.00%","a":0.4454,"c":-0.0025},{"txt":"<0.0001","a":0.4704,"c":0.119}]},"mark":{"type":"text","align":"left","baseline":"middle","fontSize":12.6,"fontWeight":"bold"},"encoding":{"x":{"field":"a","type":"quantitative"},"y":{"field":"c","type":"quantitative"},"text":{"field":"txt"}}},
  {"data":{"values":[{"txt":"P","a":0.4454,"c":0.119}]},"mark":{"type":"text","align":"left","baseline":"middle","fontSize":12.6,"fontWeight":"bold","fontStyle":"italic"},"encoding":{"x":{"field":"a","type":"quantitative"},"y":{"field":"c","type":"quantitative"},"text":{"field":"txt"}}},
  {"data":{"values":[{"txt":"ROC at OS time t=120m, AUC=86.9","a":0.511,"c":1.109}]},"mark":{"type":"text","align":"center","baseline":"middle","fontSize":19,"fontWeight":"bold"},"encoding":{"x":{"field":"a","type":"quantitative"},"y":{"field":"c","type":"quantitative"},"text":{"field":"txt"}}},
  {"data":{"values":[{"txt":"(F)","a":-0.048,"c":1.249}]},"mark":{"type":"text","align":"left","baseline":"middle","fontSize":26,"fontWeight":"bold"},"encoding":{"x":{"field":"a","type":"quantitative"},"y":{"field":"c","type":"quantitative"},"text":{"field":"txt"}}}
 ]
},
{
 "width":406,"height":348,"view":{"stroke":"black","strokeWidth":2.5},
 "layer":[
  {"data":{"name":"aucDSS"},"mark":{"type":"line","strokeDash":[3,2.5],"strokeWidth":2.5},
   "encoding":{
    "x":{"field":"t","type":"quantitative","scale":{"domain":[1.44,70.56],"nice":false,"zero":false},"axis":{"values":[10,20,30,40,50,60,70],"domain":false,"tickSize":8,"tickWidth":2,"labelFontSize":20,"labelBaseline":"middle","labelPadding":17,"title":"DSS time t","titleFontSize":20,"titleX":210,"titleY":55,"titleBaseline":"middle"}},
    "y":{"field":"v","type":"quantitative","scale":{"domain":[0.428,1.022],"nice":false,"zero":false},"axis":{"values":[0.5,0.6,0.7,0.8,0.9,1.0],"format":".1f","domain":false,"tickSize":8,"tickWidth":2,"labelAngle":270,"labelAlign":"center","labelBaseline":"middle","labelFontSize":18,"labelPadding":24,"title":"AUC(t)","titleFontSize":20,"titleX":-69,"titleY":158,"titleAngle":270,"titleBaseline":"middle","titleAlign":"center"}},
    "color":{"field":"s","type":"nominal","scale":{"domain":["Clinical variables","Clinical variables+SNP+Hap"],"range":["#FF0000","#0000FF"]},"legend":null}
   }},
  {"data":{"values":[{}]},"mark":{"type":"rule","color":"black","strokeDash":[6,4],"strokeWidth":2},"encoding":{"x":{"datum":1.44},"x2":{"datum":70.56},"y":{"datum":0.5}}},
  {"data":{"values":[{"s":"Clinical variables","a":33.79,"b":38.04,"c":0.476},{"s":"Clinical variables+SNP+Hap","a":33.79,"b":38.04,"c":0.45}]},"mark":{"type":"rule","strokeDash":[3,2.5],"strokeWidth":2.5},"encoding":{"x":{"field":"a","type":"quantitative"},"x2":{"field":"b"},"y":{"field":"c","type":"quantitative"},"color":{"field":"s","type":"nominal","legend":null}}},
  {"data":{"values":[{"txt":"Clinical variables","a":38.55,"c":0.4844},{"txt":"Clinical variables+SNP+Hap","a":38.55,"c":0.452}]},"mark":{"type":"text","align":"left","baseline":"middle","fontSize":12.6,"fontWeight":"bold"},"encoding":{"x":{"field":"a","type":"quantitative"},"y":{"field":"c","type":"quantitative"},"text":{"field":"txt"}}},
  {"data":{"values":[{"txt":"(G)","a":0.59,"c":1.135}]},"mark":{"type":"text","align":"left","baseline":"middle","fontSize":26,"fontWeight":"bold"},"encoding":{"x":{"field":"a","type":"quantitative"},"y":{"field":"c","type":"quantitative"},"text":{"field":"txt"}}}
 ]
},
{
 "width":412,"height":350,"view":{"stroke":"black","strokeWidth":2.5},
 "layer":[
  {"data":{"name":"rocDSS"},"mark":{"type":"line","interpolate":"step-after","strokeDash":[3,2.5],"strokeWidth":2.5},
   "encoding":{
    "x":{"field":"fpr","type":"quantitative","scale":{"domain":[-0.04,1.04],"nice":false,"zero":false},"axis":{"values":[0,0.2,0.4,0.6,0.8,1.0],"format":".1f","domain":false,"tickSize":8,"tickWidth":2,"labelFontSize":20,"labelBaseline":"middle","labelPadding":18,"title":"1-specificity","titleFontSize":20,"titleX":208,"titleY":50,"titleBaseline":"middle"}},
    "y":{"field":"tpr","type":"quantitative","scale":{"domain":[-0.04,1.04],"nice":false,"zero":false},"axis":{"values":[0,0.2,0.4,0.6,0.8,1.0],"format":".1f","domain":false,"tickSize":8,"tickWidth":2,"labelAngle":270,"labelAlign":"center","labelBaseline":"middle","labelFontSize":18,"labelPadding":21,"title":"Sensitivity","titleFontSize":20,"titleX":-57,"titleY":160,"titleAngle":270,"titleBaseline":"middle","titleAlign":"center"}},
    "color":{"field":"s","type":"nominal","scale":{"domain":["Clinical variables","Clinical variables+SNP+Hap"],"range":["#FF0000","#0000FF"]},"legend":null}
   }},
  {"data":{"values":[{}]},"mark":{"type":"rule","color":"black","strokeDash":[6,4],"strokeWidth":2},"encoding":{"x":{"datum":-0.04},"y":{"datum":-0.04},"x2":{"datum":1.04},"y2":{"datum":1.04}}},
  {"data":{"values":[{"s":"Clinical variables","a":0.3296,"b":0.3951,"c":0.0496},{"s":"Clinical variables+SNP+Hap","a":0.3296,"b":0.3951,"c":0.0033}]},"mark":{"type":"rule","strokeDash":[3,2.5],"strokeWidth":2.5},"encoding":{"x":{"field":"a","type":"quantitative"},"x2":{"field":"b"},"y":{"field":"c","type":"quantitative"},"color":{"field":"s","type":"nominal","legend":null}}},
  {"data":{"values":[{"txt":"Clinical variables 87.53%","a":0.4344,"c":0.0557},{"txt":"Clinical variables+SNP+Hap 89.39%","a":0.4344,"c":-0.0029},{"txt":"=0.0004","a":0.4565,"c":0.1144}]},"mark":{"type":"text","align":"left","baseline":"middle","fontSize":12.6,"fontWeight":"bold"},"encoding":{"x":{"field":"a","type":"quantitative"},"y":{"field":"c","type":"quantitative"},"text":{"field":"txt"}}},
  {"data":{"values":[{"txt":"P","a":0.4344,"c":0.1144}]},"mark":{"type":"text","align":"left","baseline":"middle","fontSize":12.6,"fontWeight":"bold","fontStyle":"italic"},"encoding":{"x":{"field":"a","type":"quantitative"},"y":{"field":"c","type":"quantitative"},"text":{"field":"txt"}}},
  {"data":{"values":[{"txt":"ROC at DSS time t=120m, AUC=87.5","a":0.474,"c":1.108}]},"mark":{"type":"text","align":"center","baseline":"middle","fontSize":19,"fontWeight":"bold"},"encoding":{"x":{"field":"a","type":"quantitative"},"y":{"field":"c","type":"quantitative"},"text":{"field":"txt"}}},
  {"data":{"values":[{"txt":"(H)","a":-0.045,"c":1.237}]},"mark":{"type":"text","align":"left","baseline":"middle","fontSize":26,"fontWeight":"bold"},"encoding":{"x":{"field":"a","type":"quantitative"},"y":{"field":"c","type":"quantitative"},"text":{"field":"txt"}}}
 ]
}
]
}
